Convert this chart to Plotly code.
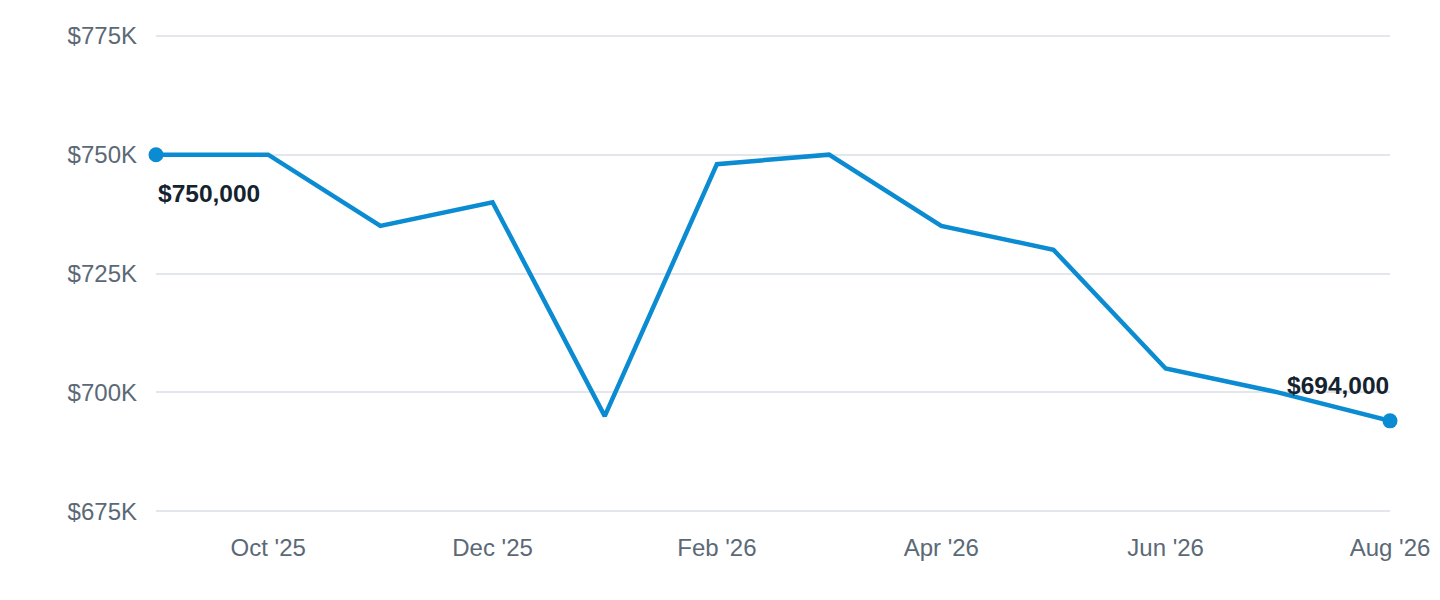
import plotly.graph_objects as go

months = ["2025-09", "2025-10", "2025-11", "2025-12", "2026-01", "2026-02",
          "2026-03", "2026-04", "2026-05", "2026-06", "2026-07", "2026-08"]
values = [750000, 750000, 735000, 740000, 695000, 748000,
          750000, 735000, 730000, 705000, 700000, 694000]

tick_vals = [675000, 700000, 725000, 750000, 775000]
tick_text = ["$675K", "$700K", "$725K", "$750K", "$775K"]
x_ticks = ["2025-10", "2025-12", "2026-02", "2026-04", "2026-06", "2026-08"]
x_text = ["Oct '25", "Dec '25", "Feb '26", "Apr '26", "Jun '26", "Aug '26"]

blue = "#0b8bd2"
gray = "#5b6977"

fig = go.Figure()

fig.add_trace(go.Scatter(
    x=months, y=values, mode="lines",
    line=dict(color=blue, width=4.5),
    cliponaxis=False,
    hoverinfo="skip", showlegend=False,
))

# end points
fig.add_trace(go.Scatter(
    x=[months[0], months[-1]], y=[values[0], values[-1]], mode="markers",
    marker=dict(color=blue, size=15),
    cliponaxis=False,
    hoverinfo="skip", showlegend=False,
))

fig.add_annotation(x=months[0], y=values[0], text="<b>$750,000</b>",
                   showarrow=False, xanchor="left", yanchor="middle",
                   xshift=0, yshift=-39,
                   font=dict(size=24.5, color="#15232f"))
fig.add_annotation(x=months[-1], y=values[-1], text="<b>$694,000</b>",
                   showarrow=False, xanchor="right", yanchor="middle",
                   xshift=1, yshift=35,
                   font=dict(size=24.5, color="#15232f"))

# page body adds ~8px offset, margins compensate
fig.update_layout(
    width=1440, height=600,
    margin=dict(l=148, r=58, t=25, b=94),
    plot_bgcolor="white", paper_bgcolor="white",
    font=dict(family="Liberation Sans, Arial, sans-serif", size=24, color=gray),
    xaxis=dict(
        type="category",
        categoryorder="array", categoryarray=months,
        range=[0, len(months) - 1],
        tickvals=x_ticks, ticktext=x_text,
        showgrid=False, zeroline=False, showline=False,
        ticks="", ticklabelstandoff=17,
        tickfont=dict(size=24, color=gray),
    ),
    yaxis=dict(
        range=[674400, 775600],
        tickvals=tick_vals, ticktext=tick_text,
        showgrid=True, gridcolor="#e3e7ec", gridwidth=2,
        zeroline=False, showline=False,
        ticks="", ticklabelstandoff=18,
        tickfont=dict(size=24, color=gray),
    ),
)

fig.write_html("out.html")
